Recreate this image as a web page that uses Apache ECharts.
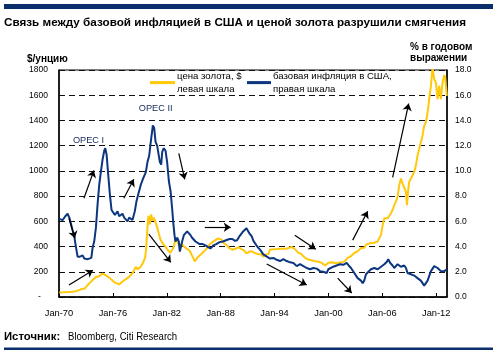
<!DOCTYPE html>
<html><head><meta charset="utf-8">
<script src="https://cdn.jsdelivr.net/npm/echarts@6/dist/echarts.min.js"></script>
<style>html,body{margin:0;padding:0;background:#fff}#c{width:496px;height:356px}</style>
</head><body><div id="c"></div>
<script>
// ---- data ----
const goldYears = [1970.03,1970.5,1971.0,1971.5,1972.0,1972.3,1972.6,1972.85,1973.05,1973.2,1973.37,1973.55,1973.74,1973.92,1974.11,1974.29,1974.48,1974.7,1974.85,1975.04,1975.22,1975.45,1975.6,1975.8,1975.96,1976.2,1976.45,1976.7,1976.89,1977.1,1977.26,1977.45,1977.63,1977.8,1977.98,1978.2,1978.37,1978.55,1978.75,1978.92,1979.1,1979.3,1979.48,1979.6,1979.7,1979.85,1979.96,1980.11,1980.26,1980.41,1980.56,1980.75,1980.93,1981.12,1981.3,1981.5,1981.67,1981.86,1982.04,1982.23,1982.4,1982.6,1982.79,1982.97,1983.16,1983.34,1983.53,1983.71,1983.9,1984.1,1984.3,1984.57,1984.8,1984.94,1985.12,1985.3,1985.5,1985.66,1985.9,1986.1,1986.4,1986.6,1986.8,1987.0,1987.3,1987.5,1987.7,1987.9,1988.1,1988.3,1988.6,1988.8,1989.0,1989.3,1989.5,1989.75,1990.0,1990.13,1990.3,1990.6,1990.88,1991.0,1991.2,1991.46,1991.7,1991.83,1992.2,1992.5,1992.73,1993.0,1993.3,1993.5,1993.7,1994.0,1994.3,1994.6,1994.8,1995.1,1995.4,1995.6,1995.9,1996.1,1996.3,1996.5,1996.65,1996.9,1997.1,1997.4,1997.76,1998.1,1998.5,1998.9,1999.25,1999.45,1999.62,1999.8,2000.0,2000.4,2000.8,2001.1,2001.5,2001.84,2002.14,2002.5,2002.88,2003.25,2003.62,2003.81,2003.99,2004.18,2004.4,2004.73,2005.11,2005.48,2005.85,2006.04,2006.22,2006.4,2006.59,2006.77,2006.96,2007.14,2007.33,2007.51,2007.7,2007.88,2008.07,2008.25,2008.44,2008.63,2008.74,2008.88,2008.99,2009.18,2009.37,2009.55,2009.74,2009.92,2010.11,2010.29,2010.48,2010.66,2010.85,2011.04,2011.22,2011.41,2011.59,2011.78,2011.96,2012.15,2012.33,2012.52,2012.7,2012.89,2013.0,2013.08,2013.19];
const goldValues = [36,37,39,42,48,57,65,66,82,95,108,120,134,121,158,173,165,178,186,175,172,160,147,140,134,115,108,100,108,125,134,142,147,160,172,190,213,238,220,213,240,265,291,320,380,554,646,575,655,606,630,625,554,501,455,430,420,400,378,380,350,360,400,465,445,410,398,420,400,385,380,365,330,310,282,300,320,325,345,360,380,400,420,430,445,455,465,477,455,430,415,400,385,375,372,385,395,398,380,370,345,355,360,362,352,350,338,340,320,335,340,376,389,378,380,383,376,382,385,380,397,390,378,365,350,345,335,310,297,292,284,280,271,262,250,265,271,276,268,271,275,284,310,323,349,362,388,401,390,415,400,428,430,441,493,572,624,612,624,638,664,690,729,756,795,887,939,900,887,834,729,850,913,939,952,992,1044,1123,1175,1228,1281,1359,1385,1464,1569,1674,1820,1727,1700,1569,1674,1569,1700,1760,1740,1674,1595];

const inflYears = [1970.03,1970.4,1970.7,1970.96,1971.15,1971.33,1971.51,1971.7,1971.88,1972.07,1972.33,1972.63,1972.81,1973.0,1973.2,1973.37,1973.6,1973.74,1973.92,1974.11,1974.29,1974.48,1974.66,1974.85,1975.04,1975.15,1975.3,1975.48,1975.67,1975.85,1976.04,1976.22,1976.4,1976.52,1976.7,1976.89,1977.07,1977.26,1977.44,1977.63,1977.81,1977.98,1978.18,1978.44,1978.63,1978.81,1979.11,1979.37,1979.67,1979.85,1980.04,1980.22,1980.45,1980.6,1980.75,1980.93,1981.12,1981.23,1981.38,1981.49,1981.67,1981.86,1982.04,1982.23,1982.42,1982.6,1982.71,1982.86,1982.97,1983.16,1983.34,1983.45,1983.6,1983.71,1983.9,1984.08,1984.27,1984.45,1984.64,1984.82,1985.01,1985.2,1985.38,1985.66,1986.0,1986.3,1986.6,1986.86,1987.2,1987.5,1987.88,1988.25,1988.6,1988.99,1989.3,1989.6,1989.83,1990.13,1990.5,1990.87,1991.05,1991.24,1991.46,1991.65,1991.98,1992.2,1992.45,1992.72,1992.9,1993.13,1993.5,1993.87,1994.24,1994.61,1994.98,1995.35,1995.73,1996.1,1996.47,1996.84,1997.21,1997.58,1997.95,1998.32,1998.69,1999.06,1999.43,1999.8,1999.99,2000.17,2000.54,2000.91,2001.28,2001.66,2002.03,2002.25,2002.51,2002.88,2003.25,2003.62,2003.81,2003.99,2004.18,2004.36,2004.73,2005.11,2005.48,2005.85,2006.22,2006.51,2006.66,2006.88,2007.14,2007.33,2007.7,2008.07,2008.44,2008.63,2008.81,2009.18,2009.55,2009.92,2010.29,2010.66,2010.85,2011.04,2011.41,2011.78,2012.15,2012.52,2012.89,2013.19];
const inflValues = [6.2,6.1,6.4,6.6,6.3,5.8,5.3,4.8,4.0,3.2,3.2,3.3,3.05,3.2,3.0,3.1,3.1,3.9,4.4,5.5,7.3,8.9,9.9,10.9,11.6,11.8,11.3,9.7,8.1,6.9,6.7,6.5,6.6,6.8,6.4,6.3,6.6,6.3,6.2,6.0,6.3,6.3,6.1,6.8,7.6,8.1,8.9,9.4,9.9,10.7,11.2,12.3,13.6,13.4,12.3,12.0,12.0,10.7,10.5,11.5,11.8,11.6,10.7,9.2,8.4,7.0,6.0,4.9,4.4,4.7,4.4,3.6,3.6,4.4,4.9,5.0,5.2,5.1,4.9,4.7,4.6,4.4,4.4,4.2,4.2,4.1,3.95,3.85,4.1,4.2,4.35,4.4,4.5,4.6,4.6,4.45,4.5,4.85,5.2,5.45,5.4,5.0,4.8,4.45,4.1,3.9,3.7,3.4,3.35,3.2,3.05,3.1,2.95,2.85,3.0,2.85,2.75,2.7,2.45,2.6,2.45,2.3,2.2,2.3,2.25,2.05,2.0,1.9,2.2,2.3,2.4,2.5,2.6,2.55,2.7,2.5,2.3,1.9,1.5,1.3,1.1,1.3,1.8,1.9,2.2,2.3,2.2,2.4,2.6,2.8,3.0,2.7,2.5,2.3,2.6,2.4,2.5,2.3,1.9,1.8,1.7,1.5,1.3,0.9,0.9,1.3,2.05,2.45,2.3,2.05,2.05,2.2];

const xStartYear = 1970;
const xTickStep = 6;
const leftTicks = {min: 0, max: 1800, step: 200};
const rightTicks = {min: 0, max: 18, step: 2};

// annotations (in data coordinates: year, $/oz)
const arrows = [
  [[1971.11,624],[1971.77,466]],
  [[1972.78,783],[1973.89,1004]],
  [[1971.11,95],[1973.78,213]],
  [[1977.22,783],[1978.33,933]],
  [[1980.0,498],[1982.45,275]],
  [[1983.34,1138],[1984.0,933]],
  [[1986.23,553],[1989.12,553]],
  [[1996.25,490],[1998.59,379]],
  [[1993.13,261],[1997.58,95]],
  [[2001.03,150],[2002.59,32]],
  [[2002.70,451],[2004.37,680]],
  [[2007.15,949],[2008.93,1534]]
];
const opecLabels = [
  {text: 'OPEC I', year: 1973.28, value: 1241},
  {text: 'OPEC II', year: 1980.76, value: 1492}
];

const FONT = "'Liberation Sans',Arial,sans-serif";
const GOLD = '#FFC80A', BLUE = '#0C3680';

const chart = echarts.init(document.getElementById('c'), null, {renderer: 'canvas'});
const pad2 = n => String(n % 100).padStart(2, '0');

chart.setOption({
  animation: false,
  textStyle: {fontFamily: FONT},
  grid: {left: 59, right: 49, top: 70, bottom: 59, show: true, borderColor: '#000', borderWidth: 1},
  legend: [
    {data: ['gold'], left: 150, top: 70, padding: 0, icon: 'rect', itemWidth: 25, itemHeight: 3,
     formatter: () => 'цена золота, $\nлевая шкала', selectedMode: false,
     textStyle: {fontFamily: FONT, fontSize: 9.6, lineHeight: 12.6, color: '#000', padding: [0,0,0,-3]}},
    {data: ['infl'], left: 247, top: 70, padding: 0, icon: 'rect', itemWidth: 24, itemHeight: 3,
     formatter: () => 'базовая инфляция в США,\nправая шкала', selectedMode: false,
     textStyle: {fontFamily: FONT, fontSize: 9.6, lineHeight: 12.6, color: '#000', padding: [0,0,0,-3]}}
  ],
  xAxis: {
    type: 'value', min: 0, max: 43.2, interval: xTickStep,
    axisLine: {show: true, lineStyle: {color: '#000', width: 1.5}},
    axisTick: {show: true, inside: true, length: 4, lineStyle: {color: '#000'}},
    splitLine: {show: false},
    axisLabel: {showMaxLabel: false, margin: 12, fontFamily: FONT, fontSize: 9.3, color: '#000',
      formatter: v => 'Jan-' + pad2(xStartYear + Math.round(v))}
  },
  yAxis: [
    {type: 'value', position: 'left', min: leftTicks.min, max: leftTicks.max, interval: leftTicks.step,
     axisLine: {show: true, lineStyle: {color: '#000', width: 1.5}}, axisTick: {show: false},
     splitLine: {show: true, lineStyle: {color: '#111', width: 1, type: [6, 4]}},
     axisLabel: {margin: 11, fontFamily: FONT, fontSize: 8.5, color: '#000',
       formatter: v => v === 0 ? '-   ' : String(v)}},
    {type: 'value', position: 'right', min: rightTicks.min, max: rightTicks.max, interval: rightTicks.step,
     axisLine: {show: true, lineStyle: {color: '#000', width: 1.5}}, axisTick: {show: false},
     splitLine: {show: false},
     axisLabel: {margin: 8, fontFamily: FONT, fontSize: 8.5, color: '#000', formatter: v => v.toFixed(1)}}
  ],
  series: [
    {name: 'gold', type: 'line', yAxisIndex: 0, showSymbol: false, symbol: 'none',
     lineStyle: {color: GOLD, width: 2}, itemStyle: {color: GOLD},
     data: goldYears.map((y, i) => [y - xStartYear, goldValues[i]]),
     markLine: {silent: true, symbol: ['none', 'arrow'], symbolSize: 7, label: {show: false},
       lineStyle: {color: '#000', width: 1.2, type: 'solid', opacity: 1},
       itemStyle: {color: '#000'},
       emphasis: {disabled: true},
       data: arrows.map(a => [{coord: [a[0][0] - xStartYear, a[0][1]]}, {coord: [a[1][0] - xStartYear, a[1][1]]}])},
     markPoint: {silent: true, symbol: 'circle', symbolSize: 0,
       label: {show: true, position: 'inside', color: '#13295a', fontFamily: FONT, fontSize: 9.2},
       data: opecLabels.map(o => ({coord: [o.year - xStartYear, o.value], value: o.text,
         label: {formatter: o.text}}))}
    },
    {name: 'infl', type: 'line', yAxisIndex: 1, showSymbol: false, symbol: 'none',
     lineStyle: {color: BLUE, width: 2}, itemStyle: {color: BLUE},
     data: inflYears.map((y, i) => [y - xStartYear, inflValues[i]])}
  ],
  graphic: [
    {type: 'rect', shape: {x: 4, y: 4, width: 489, height: 5}, style: {fill: '#0B2E6C'}},
    {type: 'text', left: 4, top: 17, style: {text: 'Связь между базовой инфляцией в США и ценой золота разрушили смягчения',
      font: "bold 11.7px 'Liberation Sans', Arial, sans-serif", fill: '#000'}},
    {type: 'text', left: 27, top: 54, style: {text: '$/унцию', font: "bold 10px " + FONT, fill: '#000'}},
    {type: 'text', left: 410, top: 41, style: {text: '% в годовом\nвыражении', font: "bold 10px " + FONT, lineHeight: 11.5, fill: '#000'}},
    {type: 'text', x: 4, y: 331, style: {text: 'Источник:', font: "bold 11.3px " + FONT, fill: '#000'}},
    {type: 'text', x: 68, y: 331, scaleX: 0.82, style: {text: 'Bloomberg, Citi Research', font: "11.7px " + FONT, fill: '#000'}},
    {type: 'rect', shape: {x: 4, y: 347.5, width: 489, height: 2.5}, style: {fill: '#0B2E6C'}}
  ]
});
</script></body></html>
